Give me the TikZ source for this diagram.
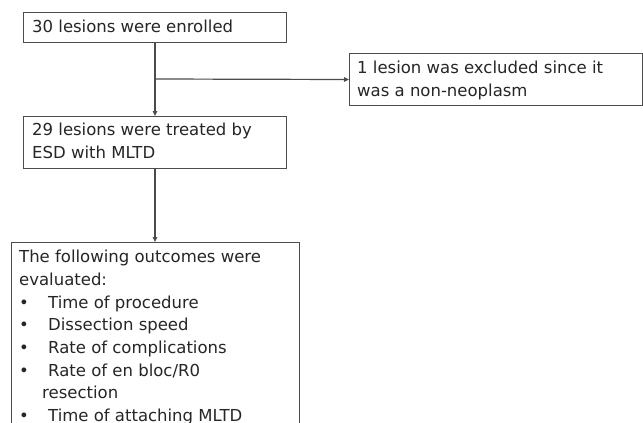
\documentclass[tikz,border=0pt]{standalone}
\usepackage{fontspec}
\setmainfont{DejaVu Sans}
\usetikzlibrary{arrows.meta}
\begin{document}
\begin{tikzpicture}[x=1pt,y=-1pt,
  box/.style={draw=black!70, line width=1pt, rectangle, inner sep=0pt, anchor=north west},
  txt/.style={anchor=base west, inner sep=0pt, font=\fontsize{16.5}{23}\selectfont, text=black!85},
  conn/.style={draw=black!70, line width=1.2pt, -{Triangle[length=5pt,width=4.5pt]}}]
\useasboundingbox (0,0) rectangle (643,423);
\clip (0,0) rectangle (643,423);
\fill[white] (0,0) rectangle (643,423);
% boxes
\node[box, minimum width=263pt, minimum height=30pt] (b1) at (23,12) {};
\node[box, minimum width=293pt, minimum height=52pt] (b2) at (349,53) {};
\node[box, minimum width=263pt, minimum height=52pt] (b3) at (23,116) {};
\node[box, minimum width=288pt, minimum height=220pt] (b4) at (11,242) {};
% texts
\node[txt] (t1) at (32,32) {30 lesions were enrolled};
\node[txt] (t2a) at (357,73) {1 lesion was excluded since it};
\node[txt] (t2b) at (357,96) {was a non-neoplasm};
\node[txt] (t3a) at (32,135) {29 lesions were treated by};
\node[txt] (t3b) at (32,158) {ESD with MLTD};
\node[txt] (t4a) at (19,262) {The following outcomes were};
\node[txt] (t4b) at (19,285) {evaluated:};
\node[txt] (bul1) at (19,308) {•};
\node[txt] (it1) at (48,308) {Time of procedure};
\node[txt] (bul2) at (19,330) {•};
\node[txt] (it2) at (48,330) {Dissection speed};
\node[txt] (bul3) at (19,353) {•};
\node[txt] (it3) at (48,353) {Rate of complications};
\node[txt] (bul4) at (19,376) {•};
\node[txt] (it4) at (48,376) {Rate of en bloc/R0};
\node[txt] (it5) at (42,398) {resection};
\node[txt] (bul6) at (19,421) {•};
\node[txt] (it6) at (48,421) {Time of attaching MLTD};
% connectors
\coordinate (j) at (155,79);
\draw[conn] (b1.south -| j) -- (b3.north -| j);
\draw[conn] (j) -- (b2.west);
\draw[conn] (b3.south -| j) -- (b4.north -| j);
\end{tikzpicture}
\end{document}
